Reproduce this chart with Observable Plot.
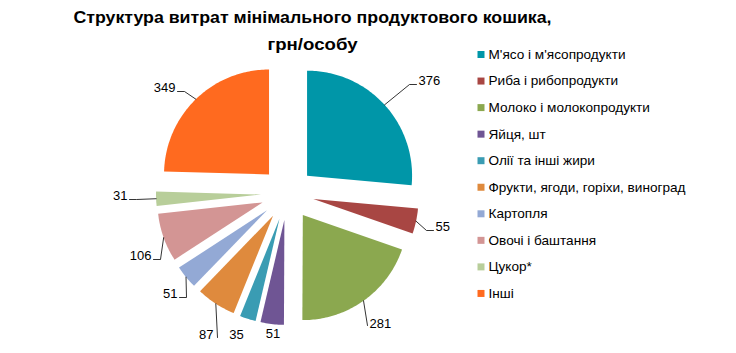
<!DOCTYPE html>
<html><head><meta charset="utf-8">
<script src="https://cdn.jsdelivr.net/npm/d3@7"></script>
<script src="https://cdn.jsdelivr.net/npm/@observablehq/plot@0.6"></script>
<style>
body{margin:0;background:#fff;}
#chart svg{display:block;font-family:"Liberation Sans",Arial,sans-serif;}
</style>
</head><body><div id="chart"></div>
<script>
// ---- data ----
const categories = [
  "М'ясо і м'ясопродукти",
  "Риба і рибопродукти",
  "Молоко і молокопродукти",
  "Яйця, шт",
  "Олії та інші жири",
  "Фрукти, ягоди, горіхи, виноград",
  "Картопля",
  "Овочі і баштання",
  "Цукор*",
  "Інші"
];
const values = [376, 55, 281, 51, 35, 87, 51, 106, 31, 349];
const colors = ["#0096A8", "#A84643", "#8BA84F", "#6F5594", "#3A9CB3", "#DF8A3D", "#93A9D5", "#D39594", "#B8CE9A", "#FF6A1F"];
const titleLines = ["Структура витрат мінімального продуктового кошика,", "грн/особу"];

// ---- layout ----
const W = 736, H = 353;
const cx = 287, cy = 193, R = 105, explode = 26.5;
const titleWidths = [478, 90];
// label anchor offsets from pie centre (text edge, baseline), anchor, leader type
const labelLayout = [
  {dx: 131, dy: -109, anchor: "start", leader: "h"},
  {dx: 148, dy: 37, anchor: "start", leader: "h"},
  {dx: 82, dy: 134, anchor: "start", leader: "s"},
  {dx: -14.5, dy: 144, anchor: "middle", leader: null},
  {dx: -51, dy: 145, anchor: "middle", leader: null},
  {dx: -74, dy: 145, anchor: "end", leader: "v"},
  {dx: -110, dy: 104, anchor: "end", leader: "h"},
  {dx: -136, dy: 66, anchor: "end", leader: "h"},
  {dx: -160, dy: 6, anchor: "end", leader: "h"},
  {dx: -112, dy: -102, anchor: "end", leader: "h"}
];

const rows = categories.map((key, i) => ({key, value: values[i], i}));
const arcs = d3.pie().sort(null).value(d => d.value).startAngle(0).endAngle(2 * Math.PI)(rows);
const pt = (ox, oy, r, a) => [ox + r * Math.sin(a), oy - r * Math.cos(a)];

const slicePts = [];
const leaderPts = [];
const labelRows = [];
arcs.forEach(a => {
  const mid = (a.startAngle + a.endAngle) / 2;
  const [ox, oy] = pt(cx, cy, explode, mid);
  const key = a.data.key;
  slicePts.push({key, x: ox, y: oy});
  const n = Math.max(2, Math.ceil((a.endAngle - a.startAngle) / (Math.PI / 180)));
  for (let k = 0; k <= n; k++) {
    const ang = a.startAngle + (a.endAngle - a.startAngle) * k / n;
    const [x, y] = pt(ox, oy, R, ang);
    slicePts.push({key, x, y});
  }
  slicePts.push({key, x: ox, y: oy});

  const L = labelLayout[a.data.i];
  const lx = cx + L.dx, ly = cy + L.dy;
  labelRows.push({key, x: lx, y: ly, text: String(a.data.value), anchor: L.anchor});
  const [mx, my] = pt(ox, oy, R, mid);
  const side = L.anchor === "start" ? -1 : 1;
  if (L.leader === "h") {
    leaderPts.push({key, x: mx, y: my});
    leaderPts.push({key, x: lx + side * 9, y: ly});
    leaderPts.push({key, x: lx + side * 2, y: ly});
  } else if (L.leader === "v") {
    leaderPts.push({key, x: mx, y: my});
    leaderPts.push({key, x: lx + side * 4, y: ly - 1});
  } else if (L.leader === "s") {
    leaderPts.push({key, x: mx, y: my});
    leaderPts.push({key, x: lx - 2, y: ly - 2});
  }
});

const legendRows = rows.map((d, i) => ({key: d.key, x: 480.5, y: 54 + i * 26.55}));
const titleRows = titleLines.map((t, i) => ({text: t, x: 312, y: 22.5 + i * 27}));

const chart = Plot.plot({
  width: W, height: H,
  margin: 0,
  x: {type: "linear", domain: [0, W], range: [0, W], axis: null},
  y: {type: "linear", domain: [0, H], range: [0, H], axis: null},
  color: {type: "ordinal", domain: categories, range: colors},
  style: {fontFamily: "Liberation Sans, Arial, sans-serif", background: "#fff"},
  marks: [
    Plot.line(slicePts, {x: "x", y: "y", z: "key", fill: "key", stroke: "none", curve: "linear"}),
    Plot.line(leaderPts, {x: "x", y: "y", z: "key", stroke: "#000", strokeWidth: 0.8}),
    ...["start", "middle", "end"].map(anc =>
      Plot.text(labelRows.filter(d => d.anchor === anc), {x: "x", y: "y", text: "text", textAnchor: anc, lineAnchor: "bottom", fontSize: 13, fill: "#000"})
    ),
    Plot.dot(legendRows, {x: "x", y: "y", fill: "key", symbol: "square", r: 3.95}),
    Plot.text(legendRows, {x: d => d.x + 7.5, y: "y", text: "key", textAnchor: "start", lineAnchor: "middle", fontSize: 13.6, fill: "#000"}),
    Plot.text(titleRows, {x: "x", y: "y", text: "text", textAnchor: "middle", lineAnchor: "bottom", fontSize: 16.5, fontWeight: "bold", fill: "#000"})
  ]
});
// stretch title lines to the reference's measured widths
chart.querySelectorAll("text").forEach(t => {
  const idx = titleLines.indexOf(t.textContent);
  if (idx >= 0) {
    t.setAttribute("textLength", titleWidths[idx]);
    t.setAttribute("lengthAdjust", "spacingAndGlyphs");
  }
});
document.getElementById("chart").appendChild(chart);
</script>
</body></html>
